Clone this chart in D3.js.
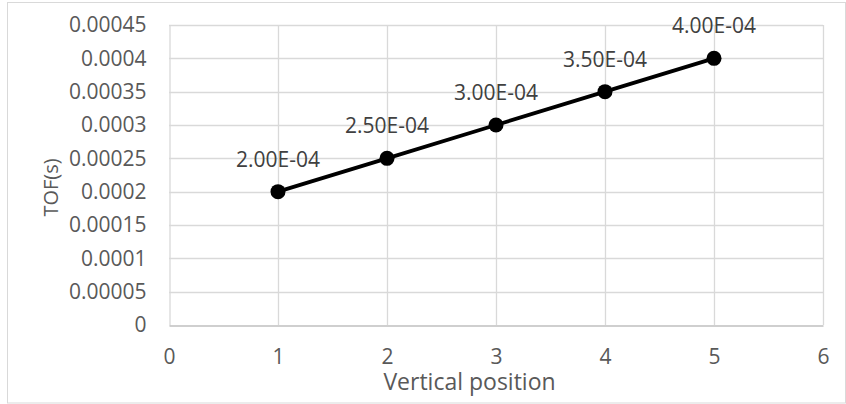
<!DOCTYPE html>
<html>
<head>
<meta charset="utf-8">
<script src="https://cdn.jsdelivr.net/npm/d3@7"></script>
<style>
  html, body { margin: 0; padding: 0; background: #fff; }
  svg { display: block; }
  text { font-family: "Open Sans", "Noto Sans", sans-serif; }
</style>
</head>
<body>
<svg id="chart" width="846" height="404"></svg>
<script>
// Time of flight at each vertical position
const positions = [1, 2, 3, 4, 5];
const tofValues = [0.0002, 0.00025, 0.0003, 0.00035, 0.0004];
const valueLabels = ["2.00E-04", "2.50E-04", "3.00E-04", "3.50E-04", "4.00E-04"];
const xTicks = [0, 1, 2, 3, 4, 5, 6];
const yTicks = [0, 0.00005, 0.0001, 0.00015, 0.0002, 0.00025, 0.0003, 0.00035, 0.0004, 0.00045];
const yTickLabels = ["0", "0.00005", "0.0001", "0.00015", "0.0002", "0.00025", "0.0003", "0.00035", "0.0004", "0.00045"];
const xTitle = "Vertical position";
const yTitle = "TOF(s)";

const svg = d3.select("#chart");
const plot = { left: 169, right: 823, top: 25, bottom: 325 };

const x = d3.scaleLinear().domain([0, 6]).range([plot.left, plot.right]);
const y = d3.scaleLinear().domain([0, 0.00045]).range([plot.bottom, plot.top]);

// chart area border
svg.append("rect")
  .attr("x", 7.5).attr("y", 2.5)
  .attr("width", 838).attr("height", 400.5)
  .attr("fill", "#fff").attr("stroke", "#d9d9d9").attr("stroke-width", 1);

// gridlines
const grid = svg.append("g");
grid.selectAll("line.h").data(yTicks.slice(1)).join("line")
  .attr("class", "h")
  .attr("x1", plot.left).attr("x2", plot.right)
  .attr("y1", d => Math.round(y(d)) + 0.5).attr("y2", d => Math.round(y(d)) + 0.5)
  .attr("stroke", "#d9d9d9").attr("stroke-width", 1.3);
grid.selectAll("line.v").data(xTicks.slice(1)).join("line")
  .attr("class", "v")
  .attr("y1", plot.top).attr("y2", plot.bottom)
  .attr("x1", d => Math.round(x(d)) + 0.5).attr("x2", d => Math.round(x(d)) + 0.5)
  .attr("stroke", "#d9d9d9").attr("stroke-width", 1.3);

// axes
const yAxis = d3.axisLeft(y).tickValues(yTicks)
  .tickFormat((d, i) => yTickLabels[i]).tickSize(0).tickPadding(23);
const gy = svg.append("g").attr("transform", `translate(${plot.left + 0.5},0)`).call(yAxis);
gy.select(".domain").attr("stroke", "#d9d9d9").attr("stroke-width", 1.3);
gy.selectAll("text").attr("fill", "#595959").style("font-size", "21px");

const xAxis = d3.axisBottom(x).tickValues(xTicks).tickFormat(d3.format("d")).tickSize(0).tickPadding(24);
const gx = svg.append("g").attr("transform", `translate(0,${plot.bottom + 0.5})`).call(xAxis);
gx.select(".domain").attr("stroke", "#bfbfbf").attr("stroke-width", 1.3);
gx.selectAll("text").attr("fill", "#595959").style("font-size", "21px");

// axis titles
svg.append("text")
  .attr("x", 469.5).attr("y", 390)
  .attr("text-anchor", "middle")
  .attr("fill", "#595959").style("font-size", "23px")
  .text(xTitle);
svg.append("text")
  .attr("transform", "translate(58,187.5) rotate(-90)")
  .attr("text-anchor", "middle")
  .attr("fill", "#595959").style("font-size", "20px")
  .text(yTitle);

// series
const pts = positions.map((p, i) => ({ p, v: tofValues[i], label: valueLabels[i] }));
svg.append("path")
  .datum(pts)
  .attr("fill", "none").attr("stroke", "#000").attr("stroke-width", 3.75)
  .attr("d", d3.line().x(d => x(d.p)).y(d => y(d.v)));
svg.selectAll("circle.pt").data(pts).join("circle")
  .attr("class", "pt")
  .attr("cx", d => x(d.p)).attr("cy", d => y(d.v)).attr("r", 7.5)
  .attr("fill", "#000");

// data labels above each point
svg.selectAll("text.lbl").data(pts).join("text")
  .attr("class", "lbl")
  .attr("x", d => x(d.p)).attr("y", d => y(d.v) - 25)
  .attr("text-anchor", "middle")
  .attr("fill", "#404040").style("font-size", "21px")
  .text(d => d.label);
</script>
</body>
</html>
